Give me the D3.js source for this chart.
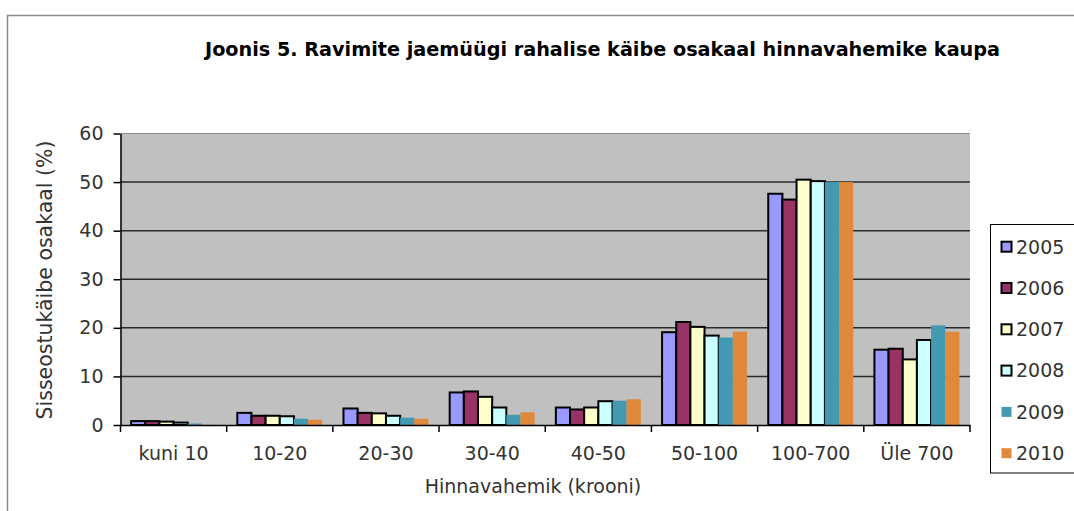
<!DOCTYPE html>
<html><head><meta charset="utf-8">
<script src="https://cdn.jsdelivr.net/npm/d3@7"></script>
<style>body{margin:0;background:#fff;} svg{display:block;}</style>
</head><body>
<svg id="chart" width="1074" height="511"></svg>
<script>
const categories = ["kuni 10","10-20","20-30","30-40","40-50","50-100","100-700","Üle 700"];
const years = ["2005","2006","2007","2008","2009","2010"];
const v2005 = [0.8, 2.5, 3.4, 6.7, 3.6, 19.1, 47.6, 15.5];
const v2006 = [0.8, 1.9, 2.5, 6.9, 3.2, 21.2, 46.4, 15.7];
const v2007 = [0.7, 1.9, 2.4, 5.8, 3.6, 20.2, 50.5, 13.5];
const v2008 = [0.5, 1.8, 1.9, 3.6, 4.9, 18.4, 50.2, 17.5];
const v2009 = [0.3, 1.3, 1.5, 2.1, 5.0, 18.0, 50.0, 20.5];
const v2010 = [0.05, 1.1, 1.3, 2.6, 5.3, 19.2, 50.0, 19.2];
const yTicks = [0,10,20,30,40,50,60];
const colors = ["#9999FF","#993366","#FFFFCC","#CCFFFF","#4499B2","#E0883C"];
const outlined = [true,true,true,true,false,false];
const seriesValues = [v2005,v2006,v2007,v2008,v2009,v2010];

const svg = d3.select("#chart");
const FONT = "DejaVu Sans, Verdana, sans-serif";
const L = 120.5, R = 970, T = 133.5, B = 425;

// outer frame
svg.append("path").attr("d","M7.5,520 V15.5 H1080").attr("fill","none").attr("stroke","#8a8a8a").attr("stroke-width",1.5);

const x0 = d3.scaleBand().domain(categories).range([L, R]).paddingInner(0.2).paddingOuter(0.1);
const x1 = d3.scaleBand().domain(years).range([0, x0.bandwidth()]);
const y = d3.scaleLinear().domain([0,60]).range([B, T]);

// plot background
svg.append("rect").attr("x",L).attr("y",T).attr("width",R-L).attr("height",B-T).attr("fill","#C0C0C0");

// gridlines
svg.append("g").selectAll("line").data(yTicks.filter(d=>d>0)).join("line")
  .attr("x1",L).attr("x2",R).attr("y1",d=>y(d)).attr("y2",d=>y(d))
  .attr("stroke",d=>d===60?"#8a8a8a":"#2a2a2a").attr("stroke-width",d=>d===60?1:1.5);

// bars
const groups = svg.append("g").selectAll("g").data(categories).join("g")
  .attr("transform",d=>`translate(${x0(d)},0)`);
groups.selectAll("rect").data((c,ci)=>years.map((yr,si)=>({yr,si,v:seriesValues[si][ci]}))).join("rect")
  .attr("x",d=>x1(d.yr)).attr("width",x1.bandwidth())
  .attr("y",d=>y(d.v)).attr("height",d=>B-y(d.v))
  .attr("fill",d=>colors[d.si])
  .attr("stroke",d=>outlined[d.si]?"#000":"none").attr("stroke-width",2);

// y axis
const yAxis = svg.append("g").attr("transform",`translate(${L},0)`)
  .call(d3.axisLeft(y).tickValues(yTicks).tickSize(7).tickPadding(10).tickSizeOuter(0));
yAxis.select(".domain").attr("stroke","#000").attr("stroke-width",1.5);
yAxis.selectAll(".tick line").attr("stroke","#000").attr("stroke-width",1.5);
yAxis.selectAll("text").attr("font-family",FONT).attr("font-size",19).attr("fill","#333");

// x axis
const xAxis = svg.append("g").attr("transform",`translate(0,${B})`)
  .call(d3.axisBottom(x0).tickSize(0).tickPadding(22).tickSizeOuter(0));
xAxis.select(".domain").attr("stroke","#000").attr("stroke-width",1.5);
xAxis.selectAll("text").attr("font-family",FONT).attr("font-size",19).attr("fill","#333");
// boundary ticks
const step = x0.step();
const bounds = d3.range(categories.length+1).map(i=>L + i*step);
svg.append("g").selectAll("line").data(bounds).join("line")
  .attr("x1",d=>d).attr("x2",d=>d).attr("y1",B).attr("y2",B+7)
  .attr("stroke","#000").attr("stroke-width",1.5);

// titles
svg.append("text").attr("x",205).attr("y",56).attr("font-family","DejaVu Sans Condensed, DejaVu Sans, sans-serif")
  .attr("font-weight","bold").attr("font-size",20).attr("textLength",795).attr("lengthAdjust","spacingAndGlyphs")
  .attr("fill","#000").text("Joonis 5. Ravimite jaemüügi rahalise käibe osakaal hinnavahemike kaupa");
svg.append("text").attr("x",533).attr("y",493).attr("text-anchor","middle").attr("font-family",FONT)
  .attr("font-size",19).attr("fill","#333").text("Hinnavahemik (krooni)");
svg.append("text").attr("transform","translate(52,280) rotate(-90)").attr("text-anchor","middle")
  .attr("font-family",FONT).attr("font-size",20.5).attr("fill","#333").text("Sisseostukäibe osakaal (%)");

// legend
svg.append("rect").attr("x",990.5).attr("y",224.5).attr("width",100).attr("height",248.5)
  .attr("fill","#fff").attr("stroke","#000").attr("stroke-width",1);
const leg = svg.append("g").selectAll("g").data(years).join("g")
  .attr("transform",(d,i)=>`translate(0,${246.7 + i*41.3})`);
leg.append("rect").attr("x",1001.5).attr("y",-5).attr("width",10).attr("height",10)
  .attr("fill",(d,i)=>colors[i]).attr("stroke",(d,i)=>outlined[i]?"#000":"none").attr("stroke-width",2);
leg.append("text").attr("x",1016).attr("y",0).attr("dy","0.36em").attr("font-family",FONT)
  .attr("font-size",19).attr("fill","#333").text(d=>d);
</script>
</body></html>
